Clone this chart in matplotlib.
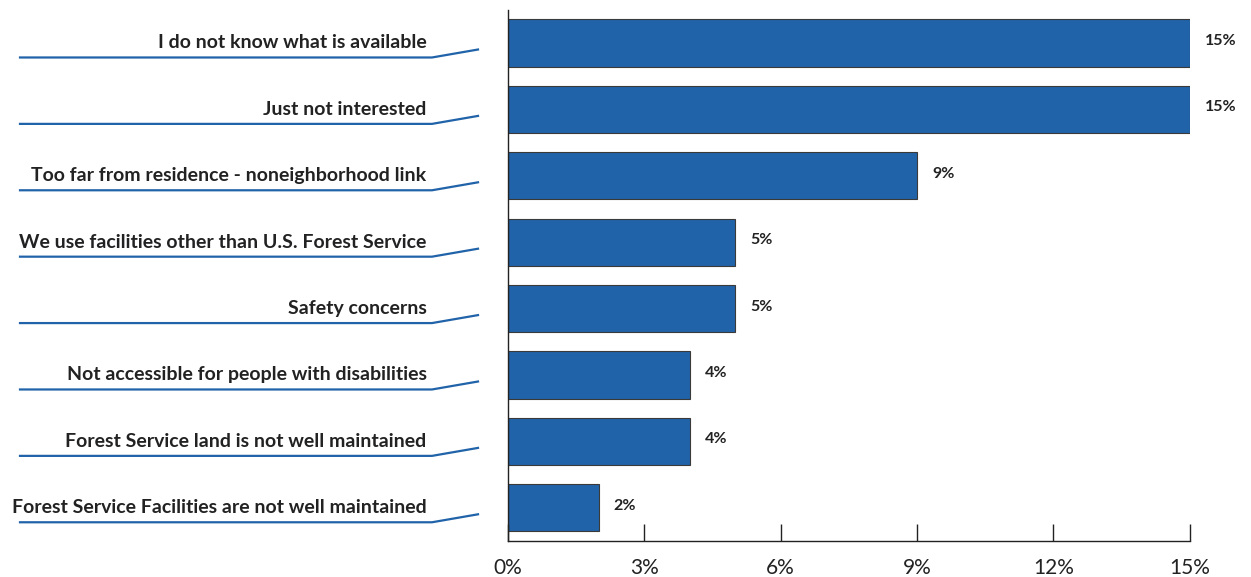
import matplotlib
matplotlib.use("Agg")
import matplotlib.pyplot as plt
from matplotlib.lines import Line2D
from matplotlib.transforms import blended_transform_factory

categories = [
    "I do not know what is available",
    "Just not interested",
    "Too far from residence - noneighborhood link",
    "We use facilities other than U.S. Forest Service",
    "Safety concerns",
    "Not accessible for people with disabilities",
    "Forest Service land is not well maintained",
    "Forest Service Facilities are not well maintained",
]
values = [15, 15, 9, 5, 5, 4, 4, 2]
xticks = [0, 3, 6, 9, 12, 15]

BLUE = "#2163A9"
EDGE = "#3a3a3a"
plt.rcParams["font.family"] = ["Lato", "DejaVu Sans"]

fig = plt.figure(figsize=(12.51, 5.77), dpi=100)
ax = fig.add_axes([0.406, 0.0624, 0.545, 0.9206])

ypos = list(range(len(categories)))
ax.barh(ypos, values, height=0.71, color=BLUE, edgecolor=EDGE, linewidth=0.8)
ax.set_ylim(len(categories) - 0.5, -0.5)
ax.set_xlim(0, 15)

for y, v in zip(ypos, values):
    ax.text(v + 0.33, y - 0.03, f"{v}%", ha="left", va="center",
            fontsize=11.5, fontweight="bold", color="#222222")

ax.set_xticks(xticks)
ax.set_xticklabels([f"{t}%" for t in xticks], fontsize=15, color="#222222")
ax.tick_params(axis="x", direction="in", length=12, width=1, color="#222222", pad=12)
ax.set_yticks([])
for s in ("top", "right"):
    ax.spines[s].set_visible(False)
for s in ("left", "bottom"):
    ax.spines[s].set_color("#222222")
    ax.spines[s].set_linewidth(1)

# category labels with underline leader lines
tr = blended_transform_factory(fig.transFigure, ax.transData)
for y, name in zip(ypos, categories):
    fig.text(0.341, y + 0.08, name, transform=tr, ha="right", va="baseline",
             fontsize=14, fontweight="bold", color="#222222")
    fig.add_artist(Line2D([20 / 1251, 432 / 1251, 478 / 1251],
                          [y + 0.218, y + 0.218, y + 0.098],
                          transform=tr, color=BLUE, linewidth=1.6))

fig.savefig("out.png", dpi=100)
